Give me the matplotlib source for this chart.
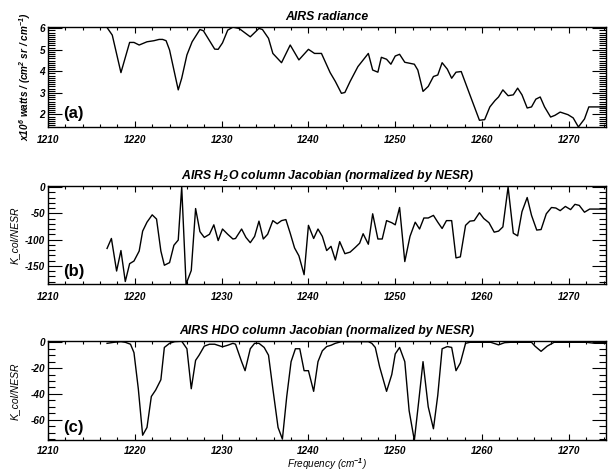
import numpy as np
import matplotlib
matplotlib.use("Agg")
from matplotlib import pyplot as plt
from matplotlib.ticker import MultipleLocator

plt.rcParams['font.family'] = ['Liberation Sans', 'DejaVu Sans']
plt.rcParams['mathtext.fontset'] = 'custom'
plt.rcParams['mathtext.rm'] = 'Liberation Sans:italic:bold'
plt.rcParams['mathtext.it'] = 'Liberation Sans:italic:bold'
plt.rcParams['mathtext.bf'] = 'Liberation Sans:italic:bold'
plt.rcParams['axes.unicode_minus'] = False

# panel (a): radiance
freq_a = [1216.8, 1217.4, 1218.4, 1219.4, 1219.9, 1220.5, 1221.4, 1222.2, 1222.8, 1223.2,
          1223.6, 1224.0, 1225.0, 1225.4, 1226.0, 1226.6, 1227.5, 1227.9, 1229.2, 1229.6,
          1230.1, 1230.7, 1231.3, 1232.0, 1233.3, 1234.3, 1234.7, 1235.4, 1235.9, 1236.9,
          1237.9, 1238.9, 1240.0, 1240.7, 1241.5, 1242.5, 1243.1, 1243.8, 1244.2, 1244.8,
          1245.7, 1246.9, 1247.4, 1248.0, 1248.4, 1249.0, 1249.5, 1250.0, 1250.5, 1251.1,
          1252.2, 1252.6, 1253.2, 1253.8, 1254.4, 1254.9, 1255.4, 1256.0, 1256.5, 1257.0,
          1257.6, 1258.6, 1259.7, 1260.3, 1260.9, 1261.5, 1261.9, 1262.4, 1263.0, 1263.6,
          1264.1, 1264.6, 1265.2, 1265.7, 1266.2, 1266.7, 1267.2, 1267.9, 1268.4, 1269.0,
          1269.9, 1270.5, 1271.1, 1271.8, 1272.3, 1274.3]
rad_a = [6.03, 5.68, 3.94, 5.34, 5.34, 5.22, 5.37, 5.42, 5.48, 5.48,
         5.42, 4.99, 3.14, 3.68, 4.76, 5.37, 5.94, 5.88, 5.03, 5.02,
         5.32, 5.91, 6.05, 5.99, 5.60, 5.99, 5.94, 5.53, 4.83, 4.40,
         5.22, 4.53, 5.02, 4.83, 4.83, 3.94, 3.53, 2.98, 3.02, 3.53,
         4.22, 4.83, 4.06, 3.96, 4.65, 4.56, 4.33, 4.71, 4.79, 4.42,
         4.33, 4.06, 3.07, 3.30, 3.76, 3.83, 4.40, 4.10, 3.68, 3.96,
         3.99, 2.91, 1.73, 1.76, 2.35, 2.65, 2.81, 3.14, 2.87, 2.91,
         3.22, 2.91, 2.30, 2.35, 2.71, 2.81, 2.35, 1.88, 1.96, 2.11,
         1.99, 1.84, 1.42, 1.79, 2.35, 2.35]

# panel (b): H2O column Jacobian
freq_b = [1216.8, 1217.3, 1217.9, 1218.4, 1218.9, 1219.4, 1219.9, 1220.5, 1220.9, 1221.4,
          1222.0, 1222.5, 1223.0, 1223.4, 1224.0, 1224.5, 1225.0, 1225.4, 1225.9, 1226.5,
          1227.0, 1227.5, 1228.0, 1228.6, 1229.1, 1229.6, 1230.1, 1230.7, 1231.3, 1231.6,
          1232.3, 1232.8, 1233.3, 1233.8, 1234.3, 1234.8, 1235.3, 1235.9, 1236.4, 1236.9,
          1237.4, 1237.9, 1238.4, 1238.9, 1239.5, 1240.0, 1240.6, 1241.1, 1241.6, 1242.1,
          1242.6, 1243.1, 1243.6, 1244.2, 1244.8, 1245.4, 1245.9, 1246.3, 1246.9, 1247.4,
          1248.0, 1248.5, 1249.0, 1249.6, 1250.0, 1250.5, 1251.1, 1251.7, 1252.3, 1252.8,
          1253.3, 1253.8, 1254.4, 1254.9, 1255.4, 1255.9, 1256.5, 1257.0, 1257.5, 1258.1,
          1258.6, 1259.1, 1259.7, 1260.2, 1260.8, 1261.4, 1261.9, 1262.4, 1263.0, 1263.6,
          1264.1, 1264.6, 1265.2, 1265.7, 1266.3, 1266.8, 1267.4, 1268.0, 1268.5, 1269.0,
          1269.6, 1270.2, 1270.7, 1271.2, 1271.8, 1272.4, 1274.3]
jac_h2o = [-117, -98, -160, -121, -180, -146, -141, -122, -84, -67,
           -53, -61, -122, -149, -144, -111, -101, 0, -185, -159,
           -41, -85, -96, -90, -72, -102, -80, -90, -99, -98,
           -80, -96, -106, -94, -65, -99, -90, -64, -70, -64,
           -62, -88, -116, -131, -167, -73, -98, -80, -94, -121,
           -113, -139, -104, -127, -124, -115, -107, -89, -109, -51,
           -99, -99, -64, -68, -72, -39, -142, -94, -67, -80,
           -59, -59, -54, -67, -79, -64, -64, -135, -133, -73,
           -65, -64, -49, -60, -68, -86, -84, -76, 0, -88,
           -93, -47, -20, -54, -82, -81, -51, -39, -40, -45,
           -37, -43, -33, -35, -48, -42, -42]

# panel (c): HDO column Jacobian
freq_c = [1216.8, 1217.6, 1218.4, 1218.9, 1219.5, 1219.9, 1220.4, 1220.9, 1221.4, 1221.9,
          1222.4, 1223.0, 1223.4, 1224.0, 1224.6, 1225.4, 1226.0, 1226.5, 1227.0, 1227.4,
          1228.0, 1228.6, 1229.2, 1230.1, 1230.7, 1231.3, 1231.6, 1232.3, 1232.7, 1233.3,
          1233.8, 1234.3, 1234.9, 1235.4, 1235.9, 1236.5, 1237.0, 1237.5, 1238.0, 1238.5,
          1239.0, 1239.5, 1240.0, 1240.6, 1241.1, 1241.6, 1242.1, 1242.6, 1243.1, 1243.8,
          1246.9, 1247.3, 1247.7, 1248.2, 1249.0, 1249.6, 1250.0, 1250.5, 1251.1, 1251.6,
          1252.2, 1252.7, 1253.2, 1253.8, 1254.4, 1254.9, 1255.4, 1256.0, 1256.5, 1257.0,
          1257.5, 1258.1, 1258.6, 1261.0, 1261.9, 1262.6, 1263.3, 1265.7, 1266.1, 1266.8,
          1267.5, 1268.3, 1272.0, 1273.0, 1274.3]
jac_hdo = [-0.8, 0.0, 0.5, 0.0, -1.5, -8, -36, -72, -66, -42,
           -37, -29, -4, -0.8, 0.5, 0.8, -5, -36, -14, -10,
           -3, -1.5, -1.5, -3.5, -2.3, -0.8, -1.5, -15, -22, -5,
           -0.8, -0.8, -4, -10, -36, -66, -75, -42, -15, -5,
           -5, -22, -22, -38, -15, -6.6, -3.3, -2.3, -0.8, 0.5,
           0.5, -0.8, -4, -19, -38, -25, -9, -4, -15, -53,
           -76, -46, -15, -50, -67, -41, -5, -3.3, -4, -22,
           -16, -0.8, 0.0, 0.0, -2, -0.3, 0.0, 0.0, -3, -7,
           -3, 0.0, 0.0, -0.8, -0.8]

titles = ['AIRS radiance',
          'AIRS H$_2$O column Jacobian (normalized by NESR)',
          'AIRS HDO column Jacobian (normalized by NESR)']
panel_tags = ['(a)', '(b)', '(c)']
ylabels = ['x10$^6$ watts / (cm$^2$ sr / cm$^{-1}$)', 'K_col/NESR', 'K_col/NESR']

fig = plt.figure(figsize=(6.08, 4.72), dpi=100)
boxes = [[0.079, 0.731, 0.918, 0.212],
         [0.079, 0.398, 0.918, 0.208],
         [0.079, 0.067, 0.918, 0.210]]
series = [(freq_a, rad_a), (freq_b, jac_h2o), (freq_c, jac_hdo)]
ylims = [(1.42, 6.06), (-185, 2), (-76, 0.8)]
ymajor = [1, 50, 20]
yminor = [0.1, 10, 5]
ylab_x = [-0.027, -0.05, -0.05]
xpad = [6, 6, 4]

for i, (xs, ys) in enumerate(series):
    ax = fig.add_axes(boxes[i])
    ax.plot(xs, ys, color='black', lw=1.0)
    ax.set_xlim(1210, 1274.3)
    ax.set_ylim(*ylims[i])
    ax.xaxis.set_major_locator(MultipleLocator(10))
    ax.xaxis.set_minor_locator(MultipleLocator(2))
    ax.yaxis.set_major_locator(MultipleLocator(ymajor[i]))
    ax.yaxis.set_minor_locator(MultipleLocator(yminor[i]))
    ax.tick_params(axis='both', which='both', direction='in', top=True, right=True,
                   width=0.8, colors='black')
    ax.tick_params(axis='x', which='major', length=4, pad=xpad[i])
    ax.tick_params(axis='x', which='minor', length=2)
    ax.tick_params(axis='y', which='major', length=10, pad=2)
    ax.tick_params(axis='y', which='minor', length=5)
    for lab in ax.get_xticklabels() + ax.get_yticklabels():
        lab.set_fontsize(7.2)
        lab.set_fontweight('bold')
        lab.set_fontstyle('italic')
    for sp in ax.spines.values():
        sp.set_linewidth(1.0)
    ax.set_title(titles[i], fontsize=8.8, fontweight='bold', fontstyle='italic', pad=5)
    ax.text(0.027, 0.13, panel_tags[i], transform=ax.transAxes, fontsize=12,
            fontweight='bold', ha='left', va='center')
    if i == 0:
        ax.set_ylabel(ylabels[i], fontsize=7.2, fontweight='bold', fontstyle='italic')
    else:
        ax.set_ylabel(ylabels[i], fontsize=7.5, fontstyle='italic')
    ax.yaxis.set_label_coords(ylab_x[i], 0.5)
    if i == 2:
        ax.set_xlabel('Frequency (cm$^{-1}$)', fontsize=7.2, fontstyle='italic')
        ax.xaxis.set_label_coords(0.5, -0.155)

fig.savefig('out.png', dpi=100)
